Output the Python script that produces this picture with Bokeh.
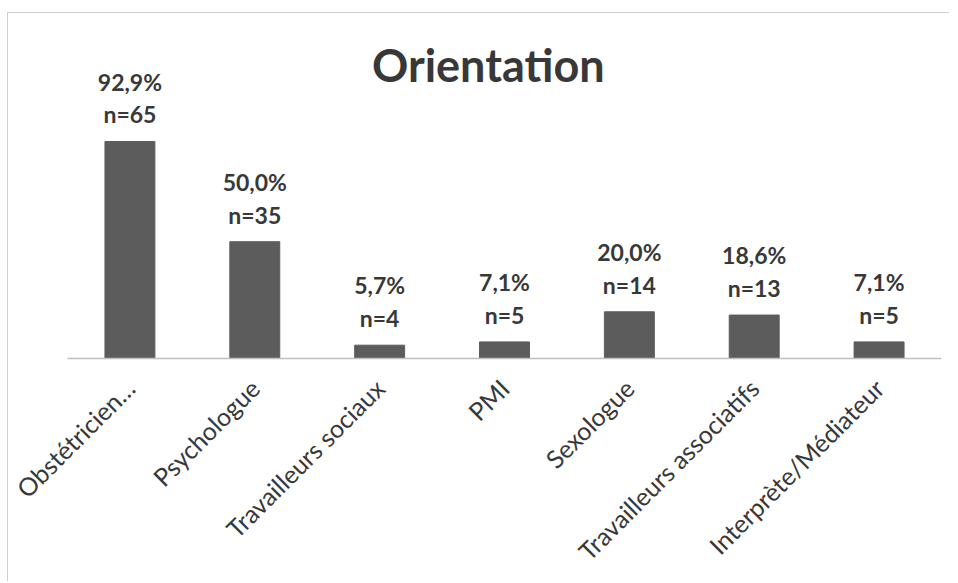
import math
from bokeh.plotting import figure
from bokeh.models import ColumnDataSource, Label, FactorRange
from bokeh.core.properties import value
from bokeh.embed import file_html
from bokeh.resources import INLINE

# ---- data ----
categories = ["Obstétricien…", "Psychologue", "Travailleurs sociaux", "PMI",
              "Sexologue", "Travailleurs associatifs", "Interprète/Médiateur"]
percents = [92.9, 50.0, 5.7, 7.1, 20.0, 18.6, 7.1]
counts = [65, 35, 4, 5, 14, 13, 5]
title_text = "Orientation"

labels = [f"{p:.1f}".replace(".", ",") + "%\n" + f"n={n}" for p, n in zip(percents, counts)]
src = ColumnDataSource(dict(cat=categories, pct=percents, lab=labels))

FONT = "Lato"
TXT = "#383838"

p = figure(x_range=FactorRange(*categories), y_range=(0, 147.7),
           width=942, height=569, output_backend="svg", toolbar_location=None,
           y_axis_location=None, min_border_left=59, min_border_right=9,
           min_border_top=0, min_border_bottom=224,
           styles={"margin-left": "7px", "margin-top": "12px",
                   "border-left": "1px solid #cfcfcf", "border-top": "1px solid #cfcfcf"})
p.outline_line_color = None
p.xgrid.grid_line_color = None
p.ygrid.grid_line_color = None
p.background_fill_color = "white"
p.border_fill_color = "white"

p.vbar(x="cat", top="pct", width=0.4, source=src, fill_color="#5c5c5c", line_color="#5c5c5c")

p.text(x="cat", y="pct", text="lab", source=src, y_offset=-13,
       text_align="center", text_baseline="bottom", text_line_height=1.17,
       text_font=value(FONT), text_font_style="bold", text_font_size="23px", text_color=TXT)

p.add_layout(Label(x=3.37, y=125.5, text=title_text, text_align="center", text_baseline="middle",
                   text_font=FONT, text_font_style="bold", text_font_size="45px", text_color=TXT))

ax = p.xaxis[0]
ax.axis_line_color = "#bfbfbf"
ax.axis_line_width = 1.5
ax.major_tick_line_color = None
ax.minor_tick_line_color = None
ax.major_label_orientation = math.pi / 4
ax.major_label_text_font = FONT
ax.major_label_text_font_size = "25px"
ax.major_label_text_color = TXT
ax.major_label_standoff = 19

open("out.html", "w").write(file_html(p, INLINE))
